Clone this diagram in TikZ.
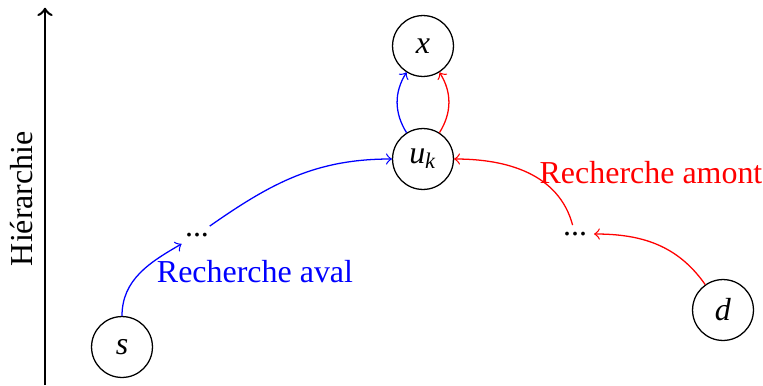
\documentclass[tikz,border=0pt]{standalone}
\usepackage{fontspec}
\setmainfont{Liberation Serif}

\begin{document}
\begin{tikzpicture}[sommet/.style={circle, draw, minimum size=0.67cm, inner sep=0pt}, etape/.style={inner sep=2pt}, aval/.style={blue, ->}, amont/.style={red, ->}]
	\useasboundingbox (0, 0) rectangle (8.393, 4.235);
	% axe de la hierarchie
	\coordinate (bas) at (0.495, 0);
	\coordinate (haut) at (0.495, 4.15);
	\draw[thick, ->] (bas) -- (haut);
	\node[rotate=90] (hier) at (0.242, 2.05) {Hiérarchie};
	% sommets
	\node[sommet] (x) at (4.653, 3.729) {\textit{x}};
	\node[sommet] (uk) at (4.653, 2.486) {\textit{u}$_{\mathit{k}}$};
	\node[sommet] (s) at (1.342, 0.418) {\textit{s}};
	\node[sommet] (d) at (7.953, 0.825) {\textit{d}};
	\node[etape] (g1) at (2.167, 1.65) {...};
	\node[etape] (g2) at (6.325, 1.661) {...};
	% recherches
	\draw[aval] (s) to[out=90, in=210] (g1);
	\draw[aval] (g1) to[out=35, in=180] (uk);
	\draw[aval] (uk) to[bend left=32] (x);
	\draw[amont] (uk) to[bend right=32] (x);
	\draw[amont] (d) to[out=125, in=0] (g2);
	\draw[amont] (g2) to[out=105, in=0] (uk);
	\node[blue] (lavl) at (2.805, 1.243) {Recherche aval};
	\node[red] (lamt) at (7.161, 2.332) {Recherche amont};
\end{tikzpicture}
\end{document}
